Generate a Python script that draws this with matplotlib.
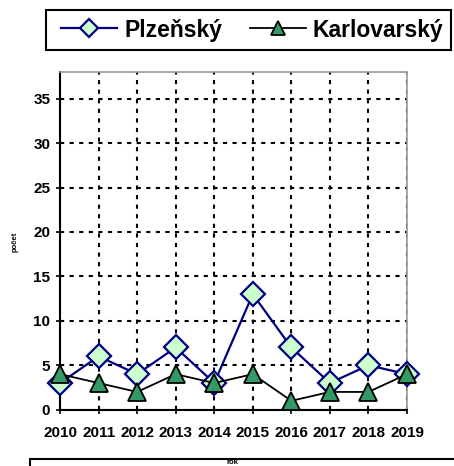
import matplotlib.pyplot as plt
from matplotlib.patches import Rectangle

plt.rcParams['font.family'] = ['Liberation Sans', 'DejaVu Sans']
plt.rcParams['font.weight'] = 'bold'

# data
roky = [2010, 2011, 2012, 2013, 2014, 2015, 2016, 2017, 2018, 2019]
plzensky = [3, 6, 4, 7, 3, 13, 7, 3, 5, 4]
karlovarsky = [4, 3, 2, 4, 3, 4, 1, 2, 2, 4]

W, H = 454, 466
fig = plt.figure(figsize=(4.54, 4.66), dpi=100)
ax = fig.add_axes([0.1322, 0.1208, 0.7643, 0.7247])

ax.plot(roky, plzensky, color='#000080', lw=1.6, marker='D', ms=12.5,
        mfc='#CCFFCC', mec='#000080', mew=1.6, clip_on=False, zorder=4,
        label='Plzeňský')
ax.plot(roky, karlovarsky, color='black', lw=1.3, marker='^', ms=12.5,
        mfc='#339966', mec='black', mew=1.3, clip_on=False, zorder=5,
        label='Karlovarský')

ax.set_xlim(2010, 2019)
ax.set_ylim(0, 38)
ax.set_xticks(roky)
ax.set_yticks([0, 5, 10, 15, 20, 25, 30, 35])
ax.tick_params(labelsize=11, length=3, width=1.2, direction='out', pad=4)
ax.tick_params(axis='x', pad=9)
for lab in ax.get_xticklabels() + ax.get_yticklabels():
    lab.set_fontweight('bold')

ax.grid(True, color='black', linestyle=(0, (2, 2.6)), lw=1.5)
ax.set_axisbelow(True)
for s in ['left', 'bottom']:
    ax.spines[s].set_linewidth(1.5)
    ax.spines[s].set_color('black')
for s in ['top', 'right']:
    ax.spines[s].set_linewidth(1.2)
    ax.spines[s].set_color('#999999')

fig.text(15 / W, 1 - 242 / H, 'počet', rotation=90, fontsize=5.5,
         fontweight='bold', ha='center', va='center')

# legend: frame drawn separately to match the original box
leg = fig.legend(loc='center left', bbox_to_anchor=(61 / W, 1 - 30 / H),
                 ncol=2, fontsize=16.5, frameon=False,
                 handlelength=2.45, handletextpad=0.3, columnspacing=1.22,
                 borderpad=0, borderaxespad=0, markerscale=0.75)
for t in leg.get_texts():
    t.set_fontweight('bold')
fig.patches.append(Rectangle((46 / W, 1 - 50 / H), 405 / W, 40 / H,
                             transform=fig.transFigure, fill=False,
                             edgecolor='black', lw=1.5))

# bottom box with x label
fig.patches.append(Rectangle((30 / W, -0.05), 1.0, 0.05 + 7 / H,
                             transform=fig.transFigure, fill=False,
                             edgecolor='black', lw=1.5, zorder=3))
fig.text(232 / W, 1 - 462 / H, 'rok', fontsize=5.5, fontweight='bold',
         ha='center', va='center', zorder=2)

fig.savefig('out.png', dpi=100)
